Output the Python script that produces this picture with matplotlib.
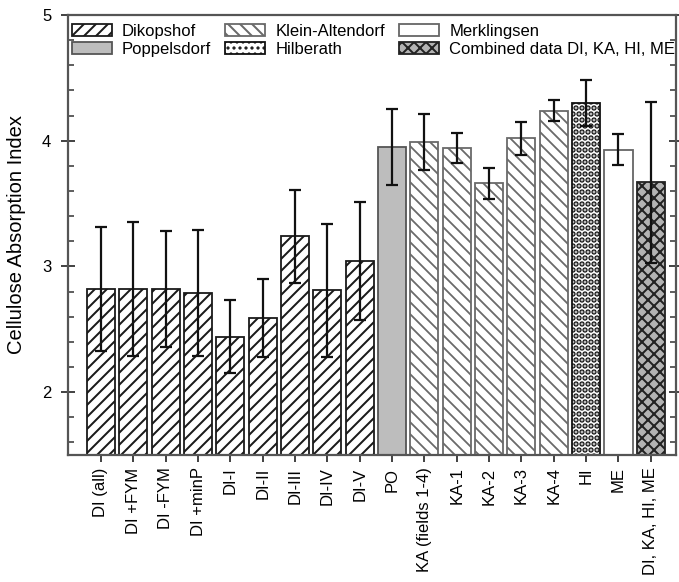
import matplotlib
matplotlib.use('Agg')
import matplotlib.pyplot as plt
from matplotlib.patches import Patch
from matplotlib.ticker import MultipleLocator

# data
labels = ['DI (all)', 'DI +FYM', 'DI -FYM', 'DI +minP', 'DI-I', 'DI-II', 'DI-III',
          'DI-IV', 'DI-V', 'PO', 'KA (fields 1-4)', 'KA-1', 'KA-2', 'KA-3', 'KA-4',
          'HI', 'ME', 'DI, KA, HI, ME']
values = [2.82, 2.82, 2.82, 2.79, 2.44, 2.59, 3.24, 2.81, 3.04,
          3.95, 3.99, 3.94, 3.66, 4.02, 4.24, 4.30, 3.93, 3.67]
errors = [0.49, 0.53, 0.46, 0.50, 0.29, 0.31, 0.37, 0.53, 0.47,
          0.30, 0.22, 0.12, 0.12, 0.13, 0.08, 0.18, 0.12, 0.64]
sites = ['DI'] * 9 + ['PO'] + ['KA'] * 5 + ['HI', 'ME', 'ALL']

site_names = {'DI': 'Dikopshof', 'PO': 'Poppelsdorf', 'KA': 'Klein-Altendorf',
              'HI': 'Hilberath', 'ME': 'Merklingsen', 'ALL': 'Combined data DI, KA, HI, ME'}
styles = {
    'DI': dict(facecolor='white', edgecolor='#1a1a1a', hatch='////'),
    'PO': dict(facecolor='#bdbdbd', edgecolor='#555555', hatch=None),
    'KA': dict(facecolor='white', edgecolor='#6a6a6a', hatch='\\\\\\\\'),
    'HI': dict(facecolor='white', edgecolor='#111111', hatch='....'),
    'ME': dict(facecolor='white', edgecolor='#666666', hatch=None),
    'ALL': dict(facecolor='#b3b3b3', edgecolor='#222222', hatch='xxxx'),
}
hatch_lw = {'DI': 1.0, 'PO': 1.0, 'KA': 0.9, 'HI': 2.0, 'ME': 1.0, 'ALL': 1.0}

DPI = 144
S = 100 / DPI   # sizes below were tuned in "points at 100 dpi"

plt.rcParams['font.family'] = ['Liberation Sans', 'DejaVu Sans']
plt.rcParams['hatch.linewidth'] = 1.0

fig = plt.figure(figsize=(679 / DPI, 582 / DPI), dpi=DPI)
ax = fig.add_axes([68 / 679, 1 - 455 / 582, (676 - 68) / 679, (455 - 15) / 582])


def set_hlw(p, s):
    if hasattr(p, 'set_hatch_linewidth'):
        p.set_hatch_linewidth(hatch_lw[s])


x = list(range(len(labels)))
for xi, v, s in zip(x, values, sites):
    bars = ax.bar(xi, v - 1.5, bottom=1.5, width=0.87, linewidth=1.3 * S, **styles[s])
    for p in bars:
        set_hlw(p, s)
ax.errorbar(x, values, yerr=errors, fmt='none', ecolor='#111111',
            elinewidth=1.6 * S, capsize=4 * S, capthick=1.6 * S, zorder=5)

ax.set_xlim(-1.02, 17.78)
ax.set_ylim(1.5, 5)
ax.yaxis.set_major_locator(MultipleLocator(1))
ax.yaxis.set_minor_locator(MultipleLocator(0.2))
ax.set_yticks([2, 3, 4, 5])
ax.set_xticks(x)
ax.set_xticklabels(labels, rotation=90, fontsize=12 * S)
ax.tick_params(axis='y', which='major', direction='inout', length=10 * S, width=1.3 * S,
               labelsize=12 * S, pad=7 * S, colors='#333333', labelcolor='black', right=True)
ax.tick_params(axis='y', which='minor', direction='in', length=4 * S, width=1.1 * S,
               colors='#333333', right=True)
ax.tick_params(axis='x', direction='out', length=5 * S, width=1.3 * S, colors='#333333',
               labelcolor='black', pad=4 * S)
for sp in ax.spines.values():
    sp.set_color('#555555')
    sp.set_linewidth(1.6 * S)

ax.set_ylabel('Cellulose Absorption Index', fontsize=14.5 * S)
ax.yaxis.set_label_coords(-42 / 608, 0.5)

order = ['DI', 'PO', 'KA', 'HI', 'ME', 'ALL']
handles = []
for s in order:
    h = Patch(linewidth=1.3 * S, label=site_names[s], **styles[s])
    set_hlw(h, s)
    handles.append(h)
ax.legend(handles=handles, ncol=3, loc='upper left', frameon=False,
          bbox_to_anchor=(72 / 679, 1 - 24 / 582), bbox_transform=fig.transFigure,
          borderpad=0, borderaxespad=0, fontsize=12 * S, handlelength=2.4,
          handleheight=0.7, handletextpad=0.6, labelspacing=0.16, columnspacing=0.85)

fig.savefig('out.png', dpi=DPI)
